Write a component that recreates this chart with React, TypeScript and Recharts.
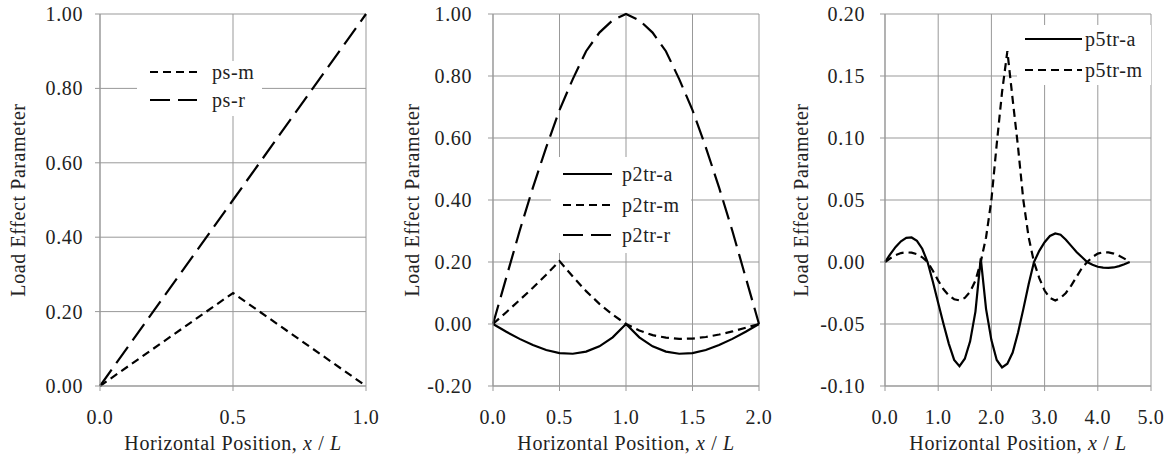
import React from 'react';
import { LineChart, Line, XAxis, YAxis, CartesianGrid, Legend } from 'recharts';

const FONT = 'Times New Roman';
const TEXT_COLOR = '#222';
const GRID = '#999';
const SHORT_DASH = '8 5';
const LONG_DASH = '20 8';
const LS = 0.6;

// ---------- Chart 1 ----------
const ch1X = [0, 0.5, 1.0];
const psM = [0, 0.25, 0];
const psR = [0, 0.5, 1.0];
const ch1XTicks = [0, 0.5, 1.0];
const ch1YTicks = [0, 0.2, 0.4, 0.6, 0.8, 1.0];

// ---------- Chart 2 ----------
const ch2X = [0, 0.1, 0.2, 0.3, 0.4, 0.5, 0.6, 0.7, 0.8, 0.9, 1.0, 1.1, 1.2, 1.3, 1.4, 1.5, 1.6, 1.7, 1.8, 1.9, 2.0];
const p2trA = [0, -0.025, -0.048, -0.068, -0.084, -0.094, -0.096, -0.089, -0.072, -0.043, 0, -0.043, -0.072, -0.089, -0.096, -0.094, -0.084, -0.068, -0.048, -0.025, 0];
const p2trM = [0, 0.038, 0.077, 0.117, 0.159, 0.203, 0.153, 0.106, 0.065, 0.030, 0, -0.021, -0.036, -0.044, -0.048, -0.047, -0.042, -0.034, -0.024, -0.012, 0];
const p2trR = [0, 0.15, 0.30, 0.44, 0.57, 0.69, 0.79, 0.88, 0.94, 0.98, 1.0, 0.98, 0.94, 0.88, 0.79, 0.69, 0.57, 0.44, 0.30, 0.15, 0];
const ch2XTicks = [0, 0.5, 1.0, 1.5, 2.0];
const ch2YTicks = [-0.2, 0, 0.2, 0.4, 0.6, 0.8, 1.0];

// ---------- Chart 3 ----------
const ch3X = [
  0, 0.1, 0.2, 0.3, 0.4, 0.5, 0.6, 0.7, 0.8,
  0.9, 1.0, 1.1, 1.2, 1.3, 1.4, 1.5, 1.6, 1.7, 1.8,
  1.9, 2.0, 2.1, 2.2, 2.3, 2.4, 2.5, 2.6, 2.7, 2.8,
  2.9, 3.0, 3.1, 3.2, 3.3, 3.4, 3.5, 3.6, 3.7, 3.8,
  3.9, 4.0, 4.1, 4.2, 4.3, 4.4, 4.5, 4.6,
];
const p5trA = [
  0, 0.0064, 0.0122, 0.0167, 0.0195, 0.0198, 0.0171, 0.0107, 0,
  -0.016, -0.033, -0.050, -0.066, -0.079, -0.084, -0.078, -0.064, -0.040, 0.003,
  -0.038, -0.063, -0.079, -0.085, -0.082, -0.073, -0.057, -0.038, -0.018, 0,
  0.009, 0.016, 0.021, 0.023, 0.022, 0.018, 0.013, 0.008, 0.004, 0,
  -0.0022, -0.0038, -0.0046, -0.0048, -0.0044, -0.0033, -0.0018, 0,
];
const p5trM = [
  0, 0.003, 0.0055, 0.0072, 0.0078, 0.0075, 0.0063, 0.0038, 0,
  -0.007, -0.015, -0.022, -0.027, -0.030, -0.031, -0.029, -0.024, -0.015, 0,
  0.02, 0.05, 0.095, 0.137, 0.170, 0.131, 0.093, 0.05, 0.02, 0,
  -0.013, -0.023, -0.029, -0.031, -0.029, -0.025, -0.019, -0.012, -0.005, 0,
  0.004, 0.0068, 0.0078, 0.0077, 0.0068, 0.005, 0.0027, 0,
];
const ch3XTicks = [0, 1, 2, 3, 4, 5];
const ch3YTicks = [-0.1, -0.05, 0, 0.05, 0.1, 0.15, 0.2];

type Series = { key: string; name: string; dash?: string; values: number[] };

const ch1Series: Series[] = [
  { key: 'psm', name: 'ps-m', dash: SHORT_DASH, values: psM },
  { key: 'psr', name: 'ps-r', dash: LONG_DASH, values: psR },
];
const ch2Series: Series[] = [
  { key: 'a', name: 'p2tr-a', values: p2trA },
  { key: 'm', name: 'p2tr-m', dash: SHORT_DASH, values: p2trM },
  { key: 'r', name: 'p2tr-r', dash: LONG_DASH, values: p2trR },
];
const ch3Series: Series[] = [
  { key: 'a', name: 'p5tr-a', values: p5trA },
  { key: 'm', name: 'p5tr-m', dash: SHORT_DASH, values: p5trM },
];

function buildData(xs: number[], series: Series[]) {
  return xs.map((x, i) => {
    const row: any = { x };
    series.forEach((s) => {
      row[s.key] = s.values[i];
    });
    return row;
  });
}

type LegendSpec = {
  left: number;
  top: number;
  w: number;
  h: number;
  rows: number[];
  x1: number;
  x2: number;
  tx: number;
};

function LegendBox({ series, spec }: { series: Series[]; spec: LegendSpec }) {
  return (
    <svg width={spec.w} height={spec.h} style={{ display: 'block', background: '#fff' }}>
      {series.map((s, i) => (
        <g key={s.key}>
          <line
            x1={spec.x1}
            x2={spec.x2}
            y1={spec.rows[i]}
            y2={spec.rows[i]}
            stroke="#000"
            strokeWidth={2.2}
            strokeDasharray={s.dash}
          />
          <text x={spec.tx} y={spec.rows[i] + 7} fontFamily={FONT} fontSize={20} letterSpacing={LS} fill={TEXT_COLOR}>
            {s.name}
          </text>
        </g>
      ))}
    </svg>
  );
}

function XLabel(props: any) {
  const { cx, baseline } = props;
  return (
    <text x={cx} y={baseline} textAnchor="middle" fontFamily={FONT} fontSize={20} letterSpacing={LS} fill={TEXT_COLOR}>
      <tspan fontFamily={FONT}>{'Horizontal Position, '}</tspan>
      <tspan fontFamily={FONT} fontStyle="italic">x</tspan>
      <tspan fontFamily={FONT}>{' / '}</tspan>
      <tspan fontFamily={FONT} fontStyle="italic">L</tspan>
    </text>
  );
}

function YLabel(props: any) {
  const { baseX, cy } = props;
  return (
    <text
      x={baseX}
      y={cy}
      transform={`rotate(-90 ${baseX} ${cy})`}
      textAnchor="middle"
      fontFamily={FONT}
      fontSize={20}
      letterSpacing={LS}
      fill={TEXT_COLOR}
    >
      Load Effect Parameter
    </text>
  );
}

function XTick(props: any) {
  const { x, y, payload } = props;
  const v = Number(payload && payload.value);
  return (
    <text x={x} y={y} dy={14} textAnchor="middle" fontFamily={FONT} fontSize={20} letterSpacing={LS} fill={TEXT_COLOR}>
      {v.toFixed(1)}
    </text>
  );
}

function YTick(props: any) {
  const { x, y, payload } = props;
  const v = Number(payload && payload.value);
  return (
    <text x={x} y={y} dy={7} textAnchor="end" fontFamily={FONT} fontSize={20} letterSpacing={LS} fill={TEXT_COLOR}>
      {v.toFixed(2)}
    </text>
  );
}

type PanelProps = {
  series: Series[];
  xs: number[];
  xDomain: [number, number];
  xTicks: number[];
  yDomain: [number, number];
  yTicks: number[];
  yWidth: number;
  rightMargin: number;
  yTickMargin: number;
  yLabelX: number;
  legend: LegendSpec;
};

const W = 390;
const H = 464;
const TOP = 14;
const XAXIS_H = 78;

function Panel(p: PanelProps) {
  const data = buildData(p.xs, p.series);
  const plotCx = (p.yWidth + (W - p.rightMargin)) / 2;
  const plotCy = TOP + (H - TOP - XAXIS_H) / 2;
  return (
    <div style={{ fontFamily: FONT }}>
      <LineChart width={W} height={H} data={data} margin={{ top: TOP, right: p.rightMargin, bottom: 0, left: 0 }}>
        <CartesianGrid stroke={GRID} strokeWidth={1} />
        <XAxis
          dataKey="x"
          type="number"
          domain={p.xDomain}
          ticks={p.xTicks}
          interval={0}
          height={XAXIS_H}
          tickSize={5}
          tickMargin={19}
          axisLine={{ stroke: GRID }}
          tickLine={{ stroke: GRID }}
          tick={<XTick />}
          label={<XLabel cx={plotCx} baseline={450} />}
        />
        <YAxis
          type="number"
          domain={p.yDomain}
          ticks={p.yTicks}
          interval={0}
          width={p.yWidth}
          tickSize={5}
          tickMargin={p.yTickMargin}
          axisLine={{ stroke: GRID }}
          tickLine={{ stroke: GRID }}
          tick={<YTick />}
          label={<YLabel baseX={p.yLabelX} cy={plotCy} />}
        />
        {p.series.map((s) => (
          <Line
            key={s.key}
            dataKey={s.key}
            name={s.name}
            type="linear"
            stroke="#000"
            strokeWidth={2.2}
            strokeDasharray={s.dash}
            dot={false}
            activeDot={false}
            isAnimationActive={false}
          />
        ))}
        <Legend
          layout="vertical"
          align="center"
          verticalAlign="middle"
          wrapperStyle={{ left: p.legend.left, top: p.legend.top, width: p.legend.w, height: p.legend.h, lineHeight: 0 }}
          content={() => <LegendBox series={p.series} spec={p.legend} />}
        />
      </LineChart>
    </div>
  );
}

export default function App() {
  return (
    <div style={{ position: 'absolute', left: 0, top: 0, width: 1170, height: 464, background: '#fff', fontFamily: FONT }}>
      <div style={{ position: 'absolute', left: 0, top: 0 }}>
        <Panel
          series={ch1Series}
          xs={ch1X}
          xDomain={[0, 1]}
          xTicks={ch1XTicks}
          yDomain={[0, 1]}
          yTicks={ch1YTicks}
          yWidth={100}
          rightMargin={24}
          yTickMargin={12}
          yLabelX={25}
          legend={{ left: 137, top: 61, w: 125, h: 55, rows: [11, 39], x1: 13, x2: 60, tx: 75 }}
        />
      </div>
      <div style={{ position: 'absolute', left: 390, top: 0 }}>
        <Panel
          series={ch2Series}
          xs={ch2X}
          xDomain={[0, 2]}
          xTicks={ch2XTicks}
          yDomain={[-0.2, 1]}
          yTicks={ch2YTicks}
          yWidth={103}
          rightMargin={21}
          yTickMargin={16}
          yLabelX={29}
          legend={{ left: 161, top: 157, w: 140, h: 96, rows: [17, 48, 78], x1: 12, x2: 61, tx: 71 }}
        />
      </div>
      <div style={{ position: 'absolute', left: 780, top: 0 }}>
        <Panel
          series={ch3Series}
          xs={ch3X}
          xDomain={[0, 5]}
          xTicks={ch3XTicks}
          yDomain={[-0.1, 0.2]}
          yTicks={ch3YTicks}
          yWidth={105}
          rightMargin={19}
          yTickMargin={15}
          yLabelX={28}
          legend={{ left: 237, top: 25, w: 134, h: 60, rows: [14, 45], x1: 8, x2: 65, tx: 68 }}
        />
      </div>
    </div>
  );
}
